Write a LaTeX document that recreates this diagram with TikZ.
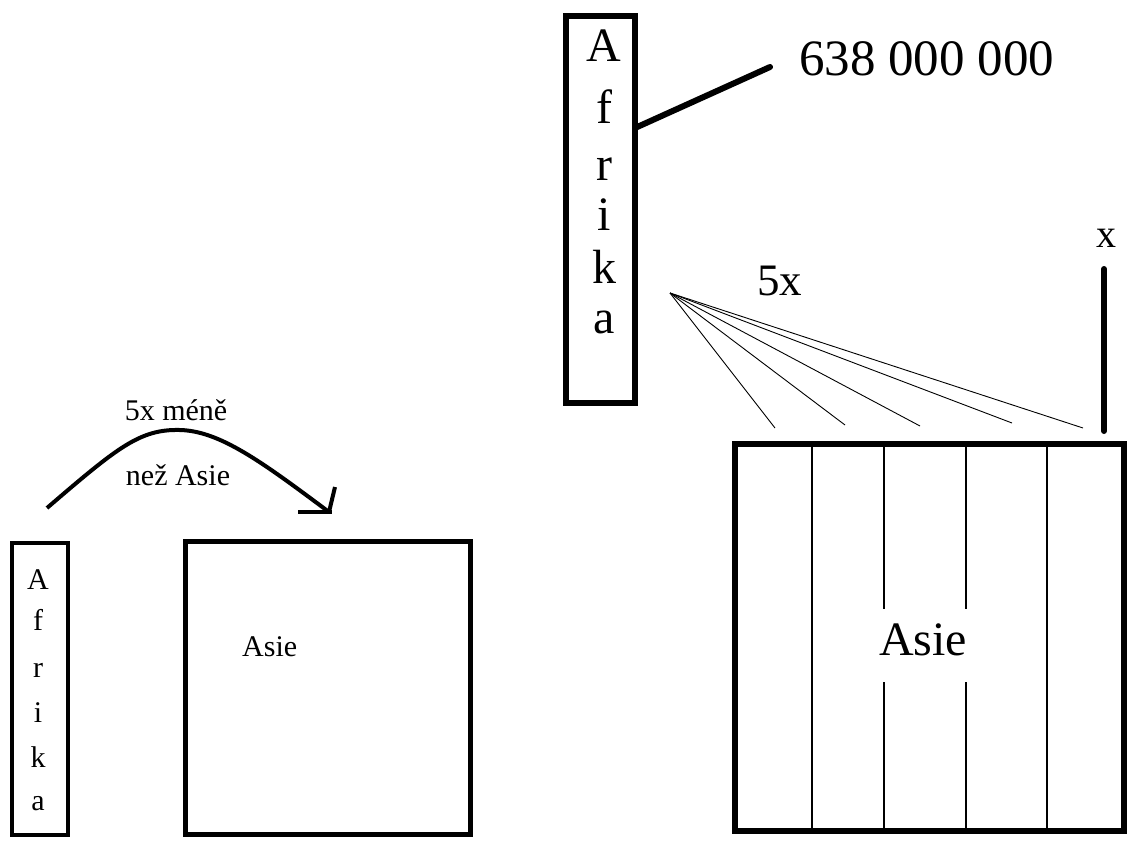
\documentclass[tikz,border=0pt]{standalone}
\usepackage{fontspec}
\setmainfont{Liberation Serif}
\begin{document}
\begin{tikzpicture}[x=1pt,y=-1pt,
  framebox/.style={draw,rectangle,inner sep=0pt,outer sep=0pt},
  letter/.style={anchor=base,inner sep=0pt},
  bigtxt/.style={letter,font=\fontsize{48}{48}\selectfont},
  smalltxt/.style={letter,font=\fontsize{30}{30}\selectfont},
  thinline/.style={line width=1.1pt},
  heavyline/.style={line width=6pt,line cap=round}]
\useasboundingbox (0,0) rectangle (1129,843);

% ---------- top right: Afrika with its population ----------
\node[framebox,line width=6pt,minimum width=69,minimum height=387] (afrTop) at (600.5,209.5) {};
\foreach \ch/\yy [count=\i] in {A/62,f/123,r/180,i/230,k/283,a/333}
  \node[bigtxt] (ta\i) at (604,\yy) {\ch};
\coordinate (numEnd) at (770,67);
\node[letter,anchor=base west,font=\fontsize{51}{51}\selectfont] (num) at (799,75) {638 000 000};
\draw[heavyline] (afrTop.east |- 0,128) -- (numEnd);

% ---------- big Asie split in five ----------
\node[framebox,line width=6pt,minimum width=389,minimum height=387] (asieBig) at (929.5,637.5) {};
\node[letter,font=\fontsize{48}{48}\selectfont] (asieBigT) at (923,655) {Asie};
\draw[thinline] (812,447) -- (812,828);
\draw[thinline] (884,447) -- (884,609) (884,682) -- (884,828);
\draw[thinline] (966,447) -- (966,609) (966,682) -- (966,828);
\draw[thinline] (1047,447) -- (1047,828);

% fan of five lines and its label
\coordinate (apex) at (670,293);
\coordinate (f1) at (775,428);
\coordinate (f2) at (845,425);
\coordinate (f3) at (920,426);
\coordinate (f4) at (1012,423);
\coordinate (f5) at (1083,428);
\foreach \e in {f1,f2,f3,f4,f5} \draw[line width=0.9pt] (apex) -- (\e);
\node[letter,font=\fontsize{45}{45}\selectfont] (fiveX) at (779.5,295) {5x};

% one fifth marked x
\coordinate (xTop) at (1104,269);
\coordinate (xBot) at (1104,431);
\draw[heavyline] (xTop) -- (xBot);
\node[letter,font=\fontsize{40}{40}\selectfont] (xLab) at (1106,247) {x};

% ---------- bottom left: comparison ----------
\node[framebox,line width=4pt,minimum width=56,minimum height=292] (afrSmall) at (40,689) {};
\foreach \ch/\yy [count=\i] in {A/589,f/630,r/677,i/722,k/767,a/810}
  \node[smalltxt] (sa\i) at (38,\yy) {\ch};

\node[framebox,line width=5pt,minimum width=285,minimum height=293] (asieSmall) at (328,688) {};
\node[smalltxt,anchor=base west] (asieSmallT) at (242,656) {Asie};

% arc arrow
\coordinate (arcStart) at (47,508);
\coordinate (arcTip) at (329,512);
\draw[line width=4pt] (arcStart) .. controls (118,447) and (140,429) .. (180,430)
   .. controls (220,431) and (262,462) .. (arcTip);
\draw[line width=4pt] (arcTip) -- (335,487);
\draw[line width=4pt] (298,512) -- (332,512);
\node[smalltxt] (lab1) at (176,420) {5x méně};
\node[smalltxt] (lab2) at (178,485) {než Asie};
\end{tikzpicture}
\end{document}
